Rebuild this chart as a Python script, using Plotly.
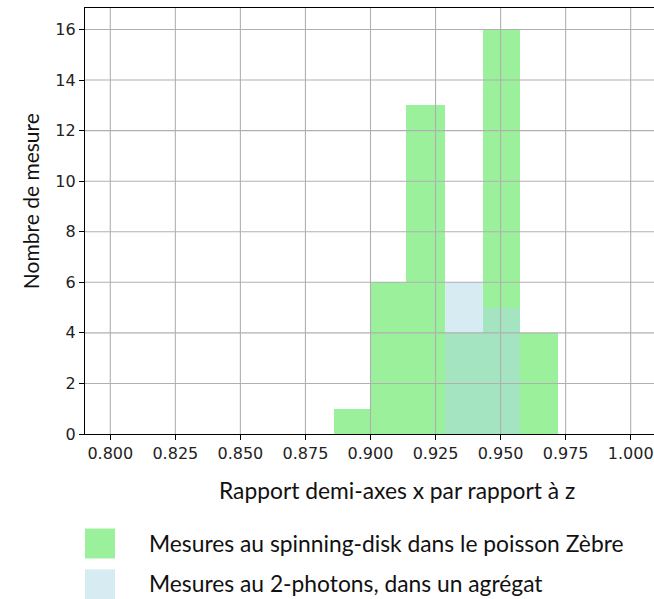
import plotly.graph_objects as go

# Histogram counts and bin edges for the two measurement series
green_edges = [0.8858, 0.9000, 0.9138, 0.9288, 0.9431, 0.9573, 0.9719]
green_counts = [1, 6, 13, 4, 16, 4]
blue_edges = [0.9285, 0.9431, 0.9573]
blue_counts = [6, 5]

green_label = "Mesures au spinning-disk dans le poisson Zèbre"
blue_label = "Mesures au 2-photons, dans un agrégat"
x_title = "Rapport demi-axes x par rapport à z"
y_title = "Nombre de mesure"

x_ticks = [0.800, 0.825, 0.850, 0.875, 0.900, 0.925, 0.950, 0.975, 1.000]
y_ticks = [0, 2, 4, 6, 8, 10, 12, 14, 16]

GREEN = "rgba(144,238,144,0.9)"
BLUE = "rgba(173,216,230,0.5)"
GRID = "#b0b0b0"

W, H = 654, 599
L, R, T, B = 85, 0, 7.5, 164.7
X_RANGE = [0.79028, 1.00896]
Y_RANGE = [0, 16.85]


def centers_widths(edges):
    c = [(a + b) / 2 for a, b in zip(edges[:-1], edges[1:])]
    w = [b - a for a, b in zip(edges[:-1], edges[1:])]
    return c, w


def px_x(px):
    return (px - L) / (W - L - R)


def px_y(py):
    return 1 - (py - T) / (H - T - B)


fig = go.Figure()
gc, gw = centers_widths(green_edges)
bc, bw = centers_widths(blue_edges)
fig.add_trace(go.Bar(x=gc, y=green_counts, width=gw, marker_color=GREEN,
                     marker_line_width=0, name=green_label, showlegend=False))
fig.add_trace(go.Bar(x=bc, y=blue_counts, width=bw, marker_color=BLUE,
                     marker_line_width=0, name=blue_label, showlegend=False))

# grid drawn above the bars
shapes = []
for xv in x_ticks:
    shapes.append(dict(type="line", xref="x", yref="paper", x0=xv, x1=xv, y0=0, y1=1,
                       line=dict(color=GRID, width=1.1), layer="above"))
for yv in y_ticks[1:]:
    shapes.append(dict(type="line", xref="paper", yref="y", x0=0, x1=1, y0=yv, y1=yv,
                       line=dict(color=GRID, width=1.1), layer="above"))

# legend swatches
for (top, bot), col in zip([(529, 559), (570, 600)], [GREEN, BLUE]):
    shapes.append(dict(type="rect", xref="paper", yref="paper",
                       x0=px_x(85), x1=px_x(115), y0=px_y(bot), y1=px_y(top),
                       fillcolor=col, line=dict(width=0), layer="above"))

text_font = dict(family="Lato", size=22.8, color="#111111")
ytitle_font = dict(family="Lato", size=21, color="#111111")
annotations = [
    dict(text=green_label, xref="paper", yref="paper", x=px_x(147), y=px_y(544),
         xanchor="left", yanchor="middle", showarrow=False, font=text_font),
    dict(text=blue_label, xref="paper", yref="paper", x=px_x(147), y=px_y(584),
         xanchor="left", yanchor="middle", showarrow=False, font=text_font),
    dict(text=x_title, xref="paper", yref="paper", x=px_x(397), y=px_y(490),
         xanchor="center", yanchor="middle", showarrow=False, font=text_font),
    dict(text=y_title, xref="paper", yref="paper", x=px_x(30), y=px_y(201),
         xanchor="center", yanchor="middle", showarrow=False, font=ytitle_font,
         textangle=-90),
]

tick_font = dict(family="DejaVu Sans", size=16, color="#222222")
fig.update_layout(
    width=W, height=H,
    margin=dict(l=L, r=R, t=T, b=B, pad=0),
    paper_bgcolor="white", plot_bgcolor="white",
    barmode="overlay", bargap=0,
    shapes=shapes, annotations=annotations,
    xaxis=dict(range=X_RANGE, tickvals=x_ticks, ticktext=[f"{v:.3f}" for v in x_ticks],
               showgrid=False, zeroline=False, showline=True, linecolor="black",
               linewidth=1.2, mirror=True, ticks="outside", ticklen=5, tickwidth=1,
               tickcolor="black", tickfont=tick_font),
    yaxis=dict(range=Y_RANGE, tickvals=y_ticks, showgrid=False, zeroline=False,
               showline=True, linecolor="black", linewidth=1.2, ticks="outside",
               ticklen=5, tickwidth=1, tickcolor="black", tickfont=tick_font),
)

fig.write_html("out.html")
